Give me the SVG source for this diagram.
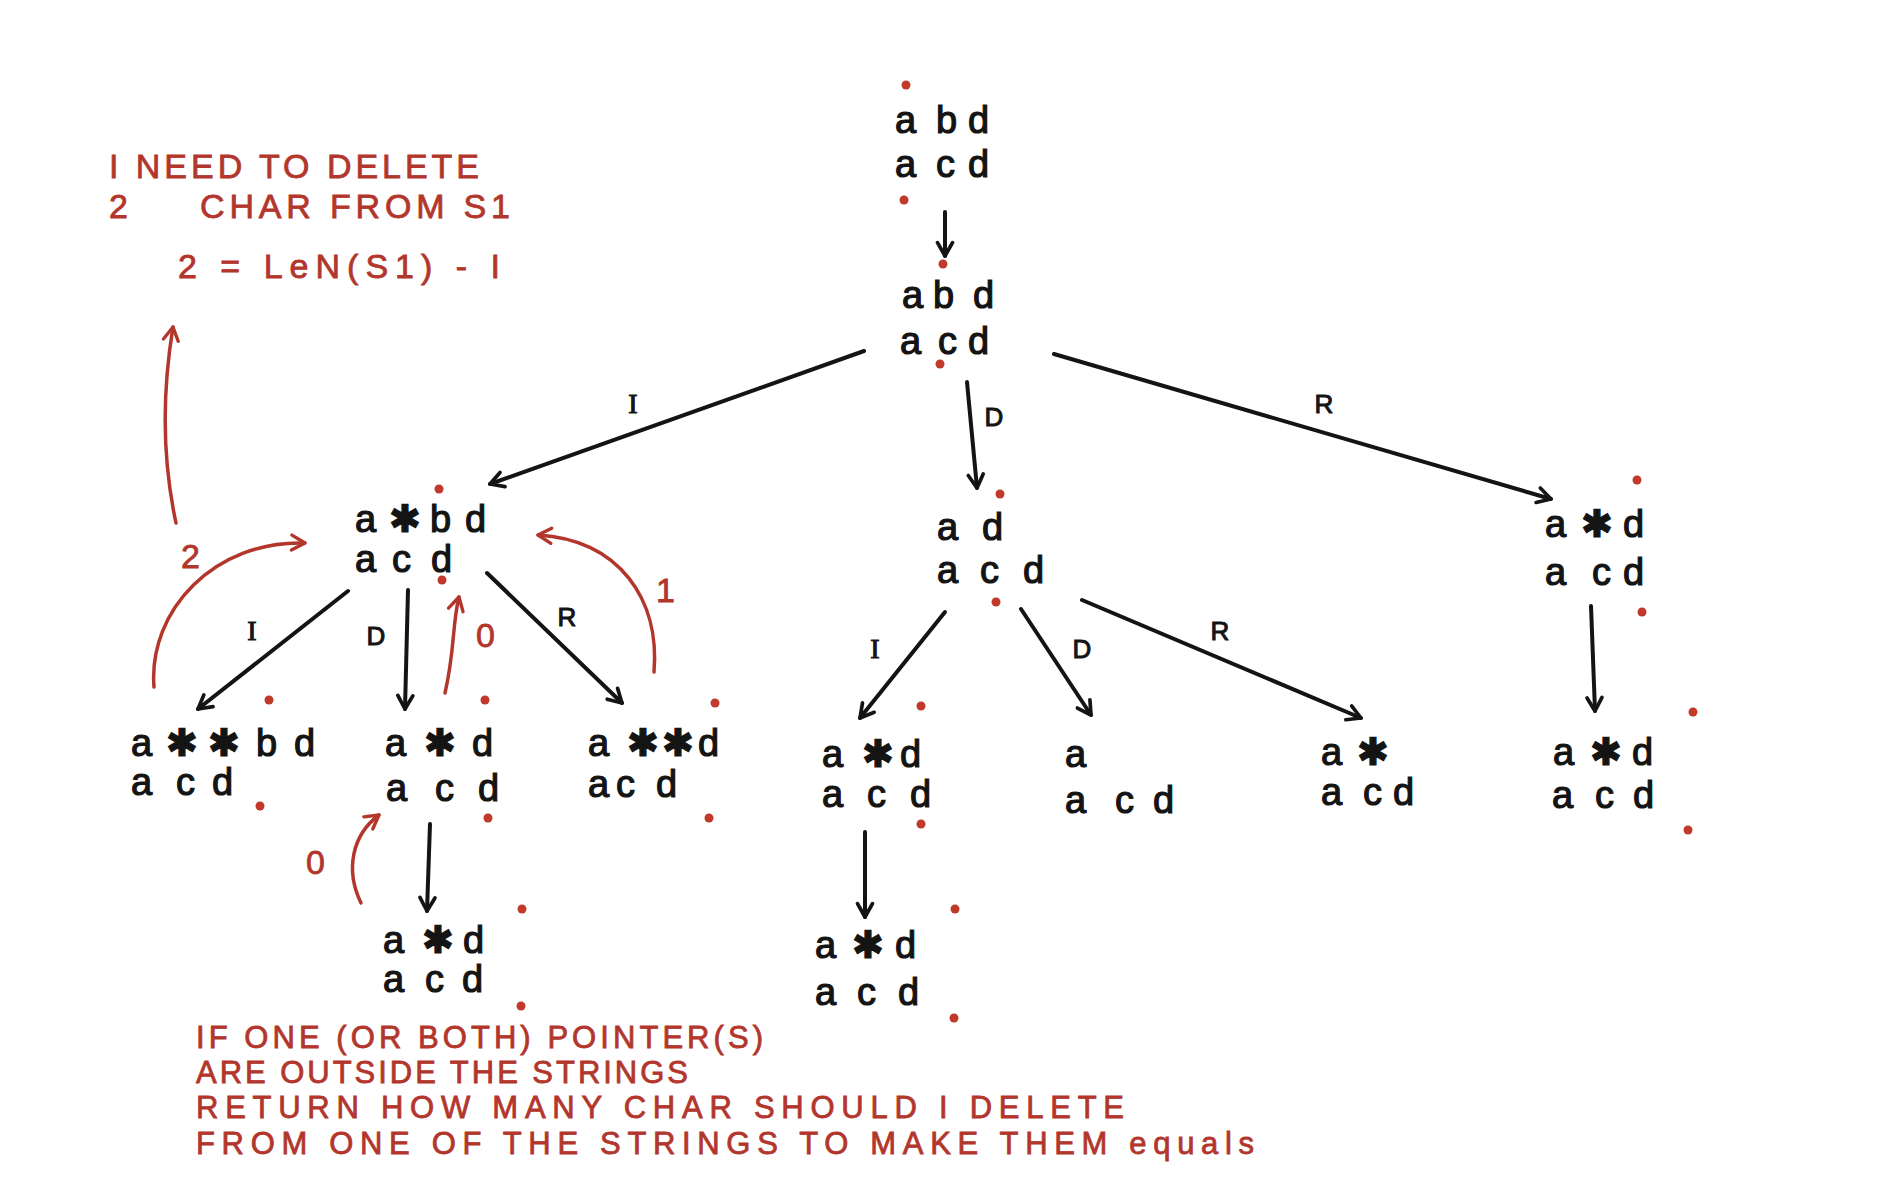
<svg xmlns="http://www.w3.org/2000/svg" width="1900" height="1200" viewBox="0 0 1900 1200">
  <defs>
    <style>
      .ch{font-family:"Liberation Sans","DejaVu Sans",Arial,sans-serif;font-size:38px;fill:#141414;stroke:#141414;stroke-width:1.2}
      .lb{font-family:"Liberation Sans",Arial,sans-serif;font-size:26px;fill:#141414;stroke:#141414;stroke-width:1;text-anchor:middle}
      .lbi{font-family:"Liberation Serif","Times New Roman",serif;font-size:28px;fill:#141414;stroke:#141414;stroke-width:1;text-anchor:middle}
      .note{font-family:"Liberation Sans",Arial,sans-serif;font-size:34px;fill:#b3362c;stroke:#b3362c;stroke-width:0.8}
      .foot{font-size:31px}
      .dot{fill:#c0392b}
      .edge{stroke:#141414;stroke-width:4;fill:none;stroke-linecap:round;marker-end:url(#ah)}
      .red{stroke:#b3362c;stroke-width:3.5;fill:none;stroke-linecap:round;marker-end:url(#ahr)}
    </style>
    <marker id="ah" viewBox="0 0 12 12" refX="10" refY="6" markerWidth="20" markerHeight="20" markerUnits="userSpaceOnUse" orient="auto">
      <path d="M2,1.5 L10,6 L2,10.5" fill="none" stroke="#141414" stroke-width="2.2" stroke-linecap="round" stroke-linejoin="round"/>
    </marker>
    <marker id="ahr" viewBox="0 0 12 12" refX="10" refY="6" markerWidth="20" markerHeight="20" markerUnits="userSpaceOnUse" orient="auto">
      <path d="M2,1.5 L10,6 L2,10.5" fill="none" stroke="#b3362c" stroke-width="2" stroke-linecap="round" stroke-linejoin="round"/>
    </marker>
  </defs>
  <rect width="1900" height="1200" fill="#ffffff"/>

  <!-- connectors -->
  <g id="connectors">
    <line class="edge" x1="945" y1="212" x2="945" y2="256"/>
    <line class="edge" x1="864" y1="351" x2="490" y2="484"/>
    <line class="edge" x1="967" y1="382" x2="977" y2="488"/>
    <line class="edge" x1="1054" y1="354" x2="1551" y2="499"/>
    <line class="edge" x1="348" y1="591" x2="198" y2="709"/>
    <line class="edge" x1="408" y1="590" x2="405" y2="709"/>
    <line class="edge" x1="487" y1="573" x2="622" y2="703"/>
    <line class="edge" x1="430" y1="824" x2="427" y2="911"/>
    <line class="edge" x1="945" y1="612" x2="860" y2="718"/>
    <line class="edge" x1="1021" y1="609" x2="1091" y2="715"/>
    <line class="edge" x1="1082" y1="600" x2="1361" y2="718"/>
    <line class="edge" x1="865" y1="832" x2="865" y2="917"/>
    <line class="edge" x1="1591" y1="606" x2="1595" y2="711"/>

    <!-- operation labels -->
    <text class="lbi" x="633" y="413">I</text>
    <text class="lb" x="994" y="426">D</text>
    <text class="lb" x="1324" y="413">R</text>
    <text class="lbi" x="252" y="640">I</text>
    <text class="lb" x="376" y="645">D</text>
    <text class="lb" x="567" y="626">R</text>
    <text class="lbi" x="875" y="658">I</text>
    <text class="lb" x="1082" y="658">D</text>
    <text class="lb" x="1220" y="640">R</text>
  </g>

  <!-- nodes: two strings, with the pointer dots above/below -->
  <g id="n-root">
    <circle class="dot" cx="906" cy="85" r="4.5"/>
    <text class="ch" x="895 936 968" y="133">abd</text>
    <text class="ch" x="895 936 968" y="177">acd</text>
    <circle class="dot" cx="904" cy="200" r="4.5"/>
  </g>
  <g id="n-1">
    <circle class="dot" cx="943" cy="264" r="4.5"/>
    <text class="ch" x="902 933 973" y="308">abd</text>
    <text class="ch" x="900 938 968" y="354">acd</text>
    <circle class="dot" cx="940" cy="364" r="4.5"/>
  </g>
  <g id="n-ins">
    <circle class="dot" cx="439" cy="489" r="4.5"/>
    <text class="ch" x="355 389 430 465" y="532">a✱bd</text>
    <text class="ch" x="355 392 431" y="572">acd</text>
    <circle class="dot" cx="442" cy="580" r="4.5"/>
  </g>
  <g id="n-ins-ins">
    <circle class="dot" cx="269" cy="700" r="4.5"/>
    <text class="ch" x="131 166 208 256 294" y="756">a✱✱bd</text>
    <text class="ch" x="131 176 212" y="795">acd</text>
    <circle class="dot" cx="260" cy="806" r="4.5"/>
  </g>
  <g id="n-ins-del">
    <circle class="dot" cx="485" cy="700" r="4.5"/>
    <text class="ch" x="385 424 472" y="756">a✱d</text>
    <text class="ch" x="386 435 478" y="801">acd</text>
    <circle class="dot" cx="488" cy="818" r="4.5"/>
  </g>
  <g id="n-ins-rep">
    <circle class="dot" cx="715" cy="703" r="4.5"/>
    <text class="ch" x="588 627 662 698" y="756">a✱✱d</text>
    <text class="ch" x="588 616 656" y="797">acd</text>
    <circle class="dot" cx="709" cy="818" r="4.5"/>
  </g>
  <g id="n-ins-del-next">
    <circle class="dot" cx="522" cy="909" r="4.5"/>
    <text class="ch" x="383 422 463" y="953">a✱d</text>
    <text class="ch" x="383 425 462" y="992">acd</text>
    <circle class="dot" cx="521" cy="1006" r="4.5"/>
  </g>
  <g id="n-del">
    <circle class="dot" cx="1000" cy="494" r="4.5"/>
    <text class="ch" x="937 982" y="540">ad</text>
    <text class="ch" x="937 980 1023" y="583">acd</text>
    <circle class="dot" cx="996" cy="602" r="4.5"/>
  </g>
  <g id="n-del-ins">
    <circle class="dot" cx="921" cy="706" r="4.5"/>
    <text class="ch" x="822 862 900" y="767">a✱d</text>
    <text class="ch" x="822 867 910" y="807">acd</text>
    <circle class="dot" cx="921" cy="824" r="4.5"/>
  </g>
  <g id="n-del-del">
    <text class="ch" x="1065" y="767">a</text>
    <text class="ch" x="1065 1115 1153" y="813">acd</text>
  </g>
  <g id="n-del-rep">
    <text class="ch" x="1321 1357" y="765">a✱</text>
    <text class="ch" x="1321 1363 1393" y="805">acd</text>
  </g>
  <g id="n-del-ins-next">
    <circle class="dot" cx="955" cy="909" r="4.5"/>
    <text class="ch" x="815 852 895" y="958">a✱d</text>
    <text class="ch" x="815 857 898" y="1005">acd</text>
    <circle class="dot" cx="954" cy="1018" r="4.5"/>
  </g>
  <g id="n-rep">
    <circle class="dot" cx="1637" cy="480" r="4.5"/>
    <text class="ch" x="1545 1581 1623" y="537">a✱d</text>
    <text class="ch" x="1545 1592 1623" y="585">acd</text>
    <circle class="dot" cx="1642" cy="612" r="4.5"/>
  </g>
  <g id="n-rep-next">
    <circle class="dot" cx="1693" cy="712" r="4.5"/>
    <text class="ch" x="1553 1590 1632" y="765">a✱d</text>
    <text class="ch" x="1552 1595 1633" y="808">acd</text>
    <circle class="dot" cx="1688" cy="830" r="4.5"/>
  </g>

  <!-- red notes and return-value arrows -->
  <g id="notes">
    <path class="red" d="M176,523 Q156,430 173,327"/>
    <text class="note" x="181" y="568">2</text>
    <path class="red" d="M154,687 C148,610 215,540 305,543"/>
    <path class="red" d="M654,672 C660,600 620,540 538,535"/>
    <text class="note" x="656" y="602">1</text>
    <path class="red" d="M445,693 C455,650 452,625 459,597"/>
    <text class="note" x="476" y="647">0</text>
    <path class="red" d="M361,903 C345,870 352,835 379,815"/>
    <text class="note" x="306" y="874">0</text>

    <text class="note" x="109" y="178" textLength="370" lengthAdjust="spacing">I NEED TO DELETE</text>
    <text class="note" x="109" y="218">2</text>
    <text class="note" x="200" y="218" textLength="310" lengthAdjust="spacing">CHAR FROM S1</text>
    <text class="note" x="178" y="278" textLength="322" lengthAdjust="spacing">2 = LeN(S1) - I</text>

    <text class="note foot" x="196" y="1048" textLength="567" lengthAdjust="spacing">IF ONE (OR BOTH) POINTER(S)</text>
    <text class="note foot" x="196" y="1083" textLength="492" lengthAdjust="spacing">ARE OUTSIDE THE STRINGS</text>
    <text class="note foot" x="196" y="1118" textLength="928" lengthAdjust="spacing">RETURN HOW MANY CHAR SHOULD I DELETE</text>
    <text class="note foot" x="196" y="1154" textLength="1058" lengthAdjust="spacing">FROM ONE OF THE STRINGS TO MAKE THEM equals</text>
  </g>
</svg>
